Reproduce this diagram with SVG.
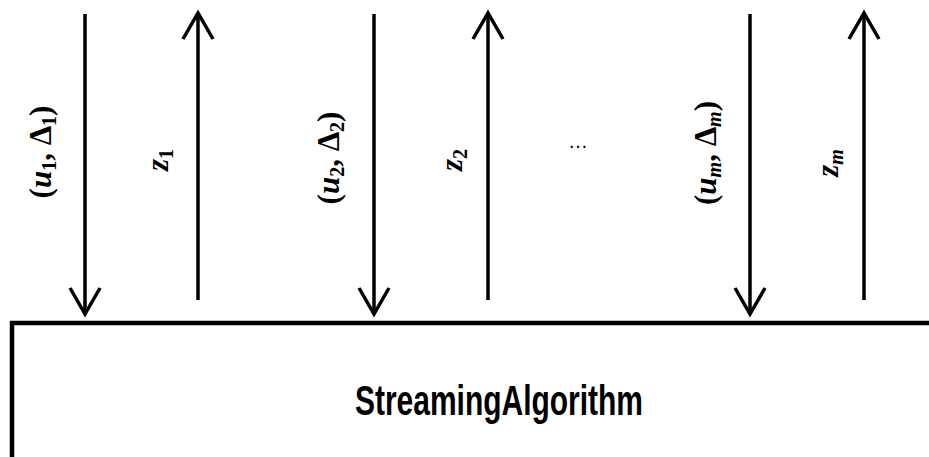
<svg xmlns="http://www.w3.org/2000/svg" width="929" height="457" viewBox="0 0 929 457">
<style>
.ln{stroke:#000;stroke-width:3.5;fill:none;stroke-linecap:butt}
.hd{stroke:#000;stroke-width:3.5;fill:none;stroke-linejoin:miter}
.box{stroke:#000;stroke-width:4.5;fill:none}
.lb{font-family:"Liberation Serif","DejaVu Serif",serif;font-size:31px;font-weight:bold;fill:#000}
.it{font-style:italic}
.sb{font-size:20px}
.title{font-family:"Liberation Sans","DejaVu Sans",sans-serif;font-size:42px;font-weight:bold;fill:#000}
.dots{font-family:"Liberation Sans",sans-serif;font-size:20px;fill:#000}
</style>
<rect width="929" height="457" fill="#fff"/>
<g id="streaming-algorithm">
<path class="box" d="M12,459 V323 H931"/>
<text class="title" x="499" y="415" text-anchor="middle" textLength="288" lengthAdjust="spacingAndGlyphs">StreamingAlgorithm</text>
</g>
<g id="connectors">
<path class="ln" d="M85,14 V313"/>
<path class="hd" d="M70,288 L85,314 L100,288"/>
<path class="ln" d="M198,300 V14"/>
<path class="hd" d="M183,39 L198,13 L213,39"/>
<path class="ln" d="M374,14 V313"/>
<path class="hd" d="M359,288 L374,314 L389,288"/>
<path class="ln" d="M488,300 V14"/>
<path class="hd" d="M473,39 L488,13 L503,39"/>
<path class="ln" d="M750,14 V313"/>
<path class="hd" d="M735,288 L750,314 L765,288"/>
<path class="ln" d="M864,300 V14"/>
<path class="hd" d="M849,39 L864,13 L879,39"/>
</g>
<g id="labels">
<text class="lb" transform="translate(51,152) rotate(-90)" text-anchor="middle">(<tspan class="it">u</tspan><tspan class="sb" dy="5">1</tspan><tspan dy="-5">, Δ</tspan><tspan class="sb" dy="5">1</tspan><tspan dy="-5">)</tspan></text>
<text class="lb" transform="translate(168,160) rotate(-90)" text-anchor="middle"><tspan class="it">z</tspan><tspan class="sb" dy="5">1</tspan></text>
<text class="lb" transform="translate(339,158) rotate(-90)" text-anchor="middle">(<tspan class="it">u</tspan><tspan class="sb" dy="5">2</tspan><tspan dy="-5">, Δ</tspan><tspan class="sb" dy="5">2</tspan><tspan dy="-5">)</tspan></text>
<text class="lb" transform="translate(462,160) rotate(-90)" text-anchor="middle"><tspan class="it">z</tspan><tspan class="sb" dy="5">2</tspan></text>
<text class="dots" x="578" y="148" text-anchor="middle">…</text>
<text class="lb" transform="translate(716,153) rotate(-90)" text-anchor="middle">(<tspan class="it">u</tspan><tspan class="sb it" dy="5">m</tspan><tspan dy="-5">, Δ</tspan><tspan class="sb it" dy="5">m</tspan><tspan dy="-5">)</tspan></text>
<text class="lb" transform="translate(838,163) rotate(-90)" text-anchor="middle"><tspan class="it">z</tspan><tspan class="sb it" dy="5">m</tspan></text>
</g>
</svg>
